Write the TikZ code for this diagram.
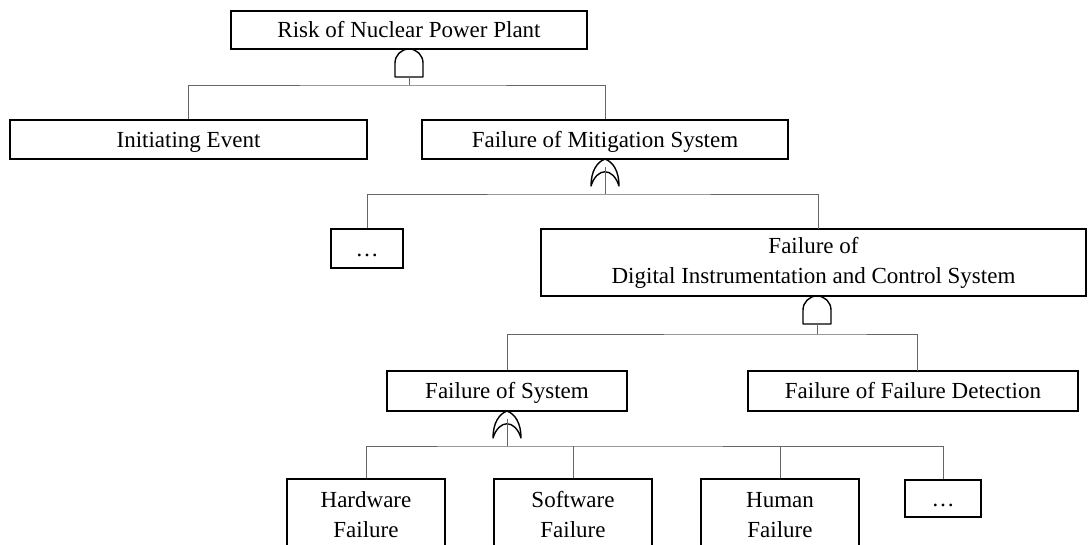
\documentclass[tikz,border=0pt]{standalone}
\usepackage{fontspec}
\setmainfont{Liberation Serif}
\begin{document}
\begin{tikzpicture}[x=1pt,y=-1pt,
  box/.style={draw=black, line width=1.4pt, inner sep=0pt, align=center,
    font=\fontsize{23}{30}\selectfont},
  oneline/.style={text height=15pt, text depth=0pt},
  conn/.style={draw=black!60, line width=1pt},
  gateline/.style={draw=black, line width=1.4pt, line join=round},
  andgate/.pic={\draw[gateline] (-14,28) -- (-14,14)
      .. controls (-14,6.27) and (-7.73,0) .. (0,0)
      .. controls (7.73,0) and (14,6.27) .. (14,14) -- (14,28) -- cycle;},
  orgate/.pic={\draw[gateline] (-14,27)
      .. controls (-14,12) and (-8,3) .. (0,0)
      .. controls (8,3) and (14,12) .. (14,27)
      .. controls (8,8) and (-8,8) .. (-14,27) -- cycle;}
]
\useasboundingbox (0,0) rectangle (1091,544);
\clip (0,0) rectangle (1091,544);
\fill[white] (0,0) rectangle (1091,544);

% boxes
\node[box, oneline, minimum width=356pt, minimum height=38pt] (top) at (409,30) {Risk of Nuclear Power Plant};
\node[box, oneline, minimum width=357pt, minimum height=39pt] (ie) at (188.5,139.5) {Initiating Event};
\node[box, oneline, minimum width=366pt, minimum height=39pt] (fms) at (605,139.5) {Failure of Mitigation System};
\node[box, oneline, minimum width=72pt, minimum height=39pt] (d1) at (367,248.5) {\ldots};
\node[box, minimum width=545pt, minimum height=67pt] (dic) at (813.5,262.5) {Failure of\\Digital Instrumentation and Control System};
\node[box, oneline, minimum width=240pt, minimum height=40pt] (fos) at (507,391) {Failure of System};
\node[box, oneline, minimum width=330pt, minimum height=40pt] (ffd) at (913,391) {Failure of Failure Detection};
\node[box, minimum width=158pt, minimum height=72pt] (hw) at (366,515) {Hardware\\Failure};
\node[box, minimum width=158pt, minimum height=72pt] (sw) at (573,515) {Software\\Failure};
\node[box, minimum width=158pt, minimum height=72pt] (hu) at (780,515) {Human\\Failure};
\node[box, oneline, minimum width=76pt, minimum height=37pt] (d2) at (943,498.5) {\ldots};

% gates
\pic at (409,49) {andgate};
\pic at (605,159) {orgate};
\pic at (817,296) {andgate};
\pic at (507,411) {orgate};

% gate outputs, junctions and box entry points
\coordinate (g1) at (409,77);   \coordinate (j1) at (409,85);
\coordinate (g2) at (605,167);  \coordinate (j2) at (605,194);
\coordinate (g3) at (817,324);  \coordinate (j3) at (817,334);
\coordinate (g4) at (507,419);  \coordinate (j4) at (507,446);
\coordinate (dicin) at (818,229);
\coordinate (ffdin) at (917,371);

\draw[conn] (g1) -- (j1);
\draw[conn] (ie.north) |- (j1) -| (fms.north);
\draw[conn] (g2) -- (j2);
\draw[conn] (d1.north) |- (j2) -| (dicin);
\draw[conn] (g3) -- (j3);
\draw[conn] (fos.north) |- (j3) -| (ffdin);
\draw[conn] (g4) -- (j4);
\draw[conn] (hw.north) |- (j4) -| (d2.north);
\draw[conn] (sw.north) -- (sw.north |- j4);
\draw[conn] (hu.north) -- (hu.north |- j4);
\end{tikzpicture}
\end{document}
